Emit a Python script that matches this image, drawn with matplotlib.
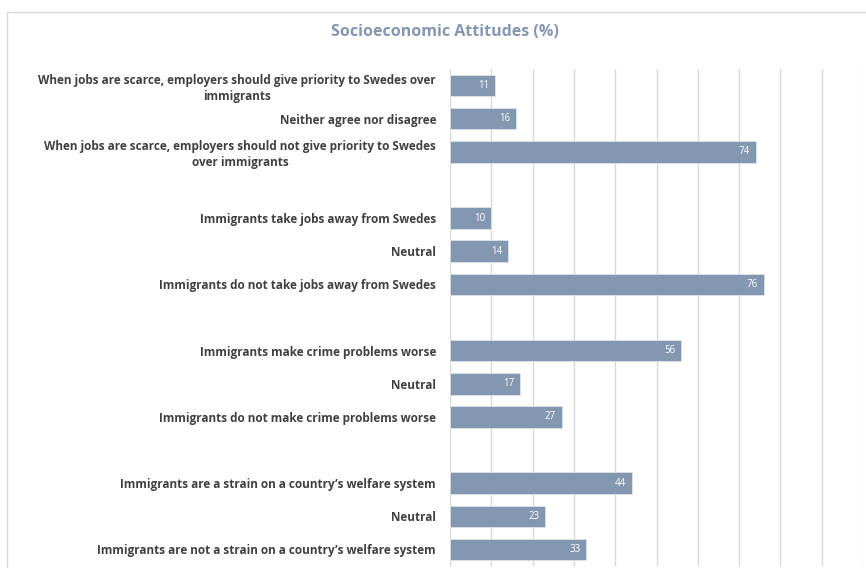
import matplotlib
matplotlib.use("Agg")
import matplotlib.pyplot as plt
from matplotlib.patches import Rectangle

# Categories top to bottom; None marks the blank slot between groups
labels = [
    "When jobs are scarce, employers should give priority to Swedes over\nimmigrants",
    "Neither agree nor disagree",
    "When jobs are scarce, employers should not give priority to Swedes\nover immigrants",
    None,
    "Immigrants take jobs away from Swedes",
    "Neutral",
    "Immigrants do not take jobs away from Swedes",
    None,
    "Immigrants make crime problems worse",
    "Neutral",
    "Immigrants do not make crime problems worse",
    None,
    "Immigrants are a strain on a country\u2019s welfare system",
    "Neutral",
    "Immigrants are not a strain on a country\u2019s welfare system",
]
values = [11, 16, 74, None, 10, 14, 76, None, 56, 17, 27, None, 44, 23, 33]

BAR = "#8497B0"
TXT = "#404040"
FONT = ["Open Sans", "DejaVu Sans"]

fig = plt.figure(figsize=(8.66, 5.68), dpi=100)
W, H = 866, 568
ax = fig.add_axes([450 / W, 1 - 566 / H, (863 - 450) / W, (566 - 69) / H])

# chart frame
fig.patches.append(Rectangle((7 / W, -0.1), 1.2, 1 - 12 / H + 0.1,
                             transform=fig.transFigure, fill=False,
                             edgecolor="#D9D9D9", lw=1.0))

ys, ws, ls = [], [], []
for i, (lab, v) in enumerate(zip(labels, values)):
    if v is None:
        continue
    ys.append(i)
    ws.append(v)
    ls.append(lab)

bars = ax.barh(ys, ws, height=0.65, color=BAR, edgecolor="#DCE3EC", lw=0.6,
               zorder=3)
for b, v in zip(bars, ws):
    ax.text(b.get_width() - 1.4, b.get_y() + b.get_height() / 2, str(v),
            ha="right", va="center", color="white", fontsize=7,
            family=FONT, zorder=4)

ax.set_xlim(0, 100)
ax.set_ylim(len(labels) - 0.5, -0.5)
ax.set_xticks(range(0, 101, 10))
ax.xaxis.grid(True, color="#D9D9D9", lw=1.0)
ax.set_axisbelow(True)
ax.tick_params(axis="x", length=0, labelbottom=False)
ax.tick_params(axis="y", length=0)
ax.set_yticks(ys)
ax.set_yticklabels(ls, fontsize=8.45, fontweight="bold", color=TXT,
                   family=FONT, multialignment="center", linespacing=1.3)
ax.tick_params(axis="y", pad=10)
for s in ax.spines.values():
    s.set_visible(False)

fig.text(445 / W, 1 - 32 / H, "Socioeconomic Attitudes (%)", ha="center",
         va="center", fontsize=11.5, fontweight="bold", color="#8497B0",
         family=FONT)

fig.savefig("out.png", dpi=100)
